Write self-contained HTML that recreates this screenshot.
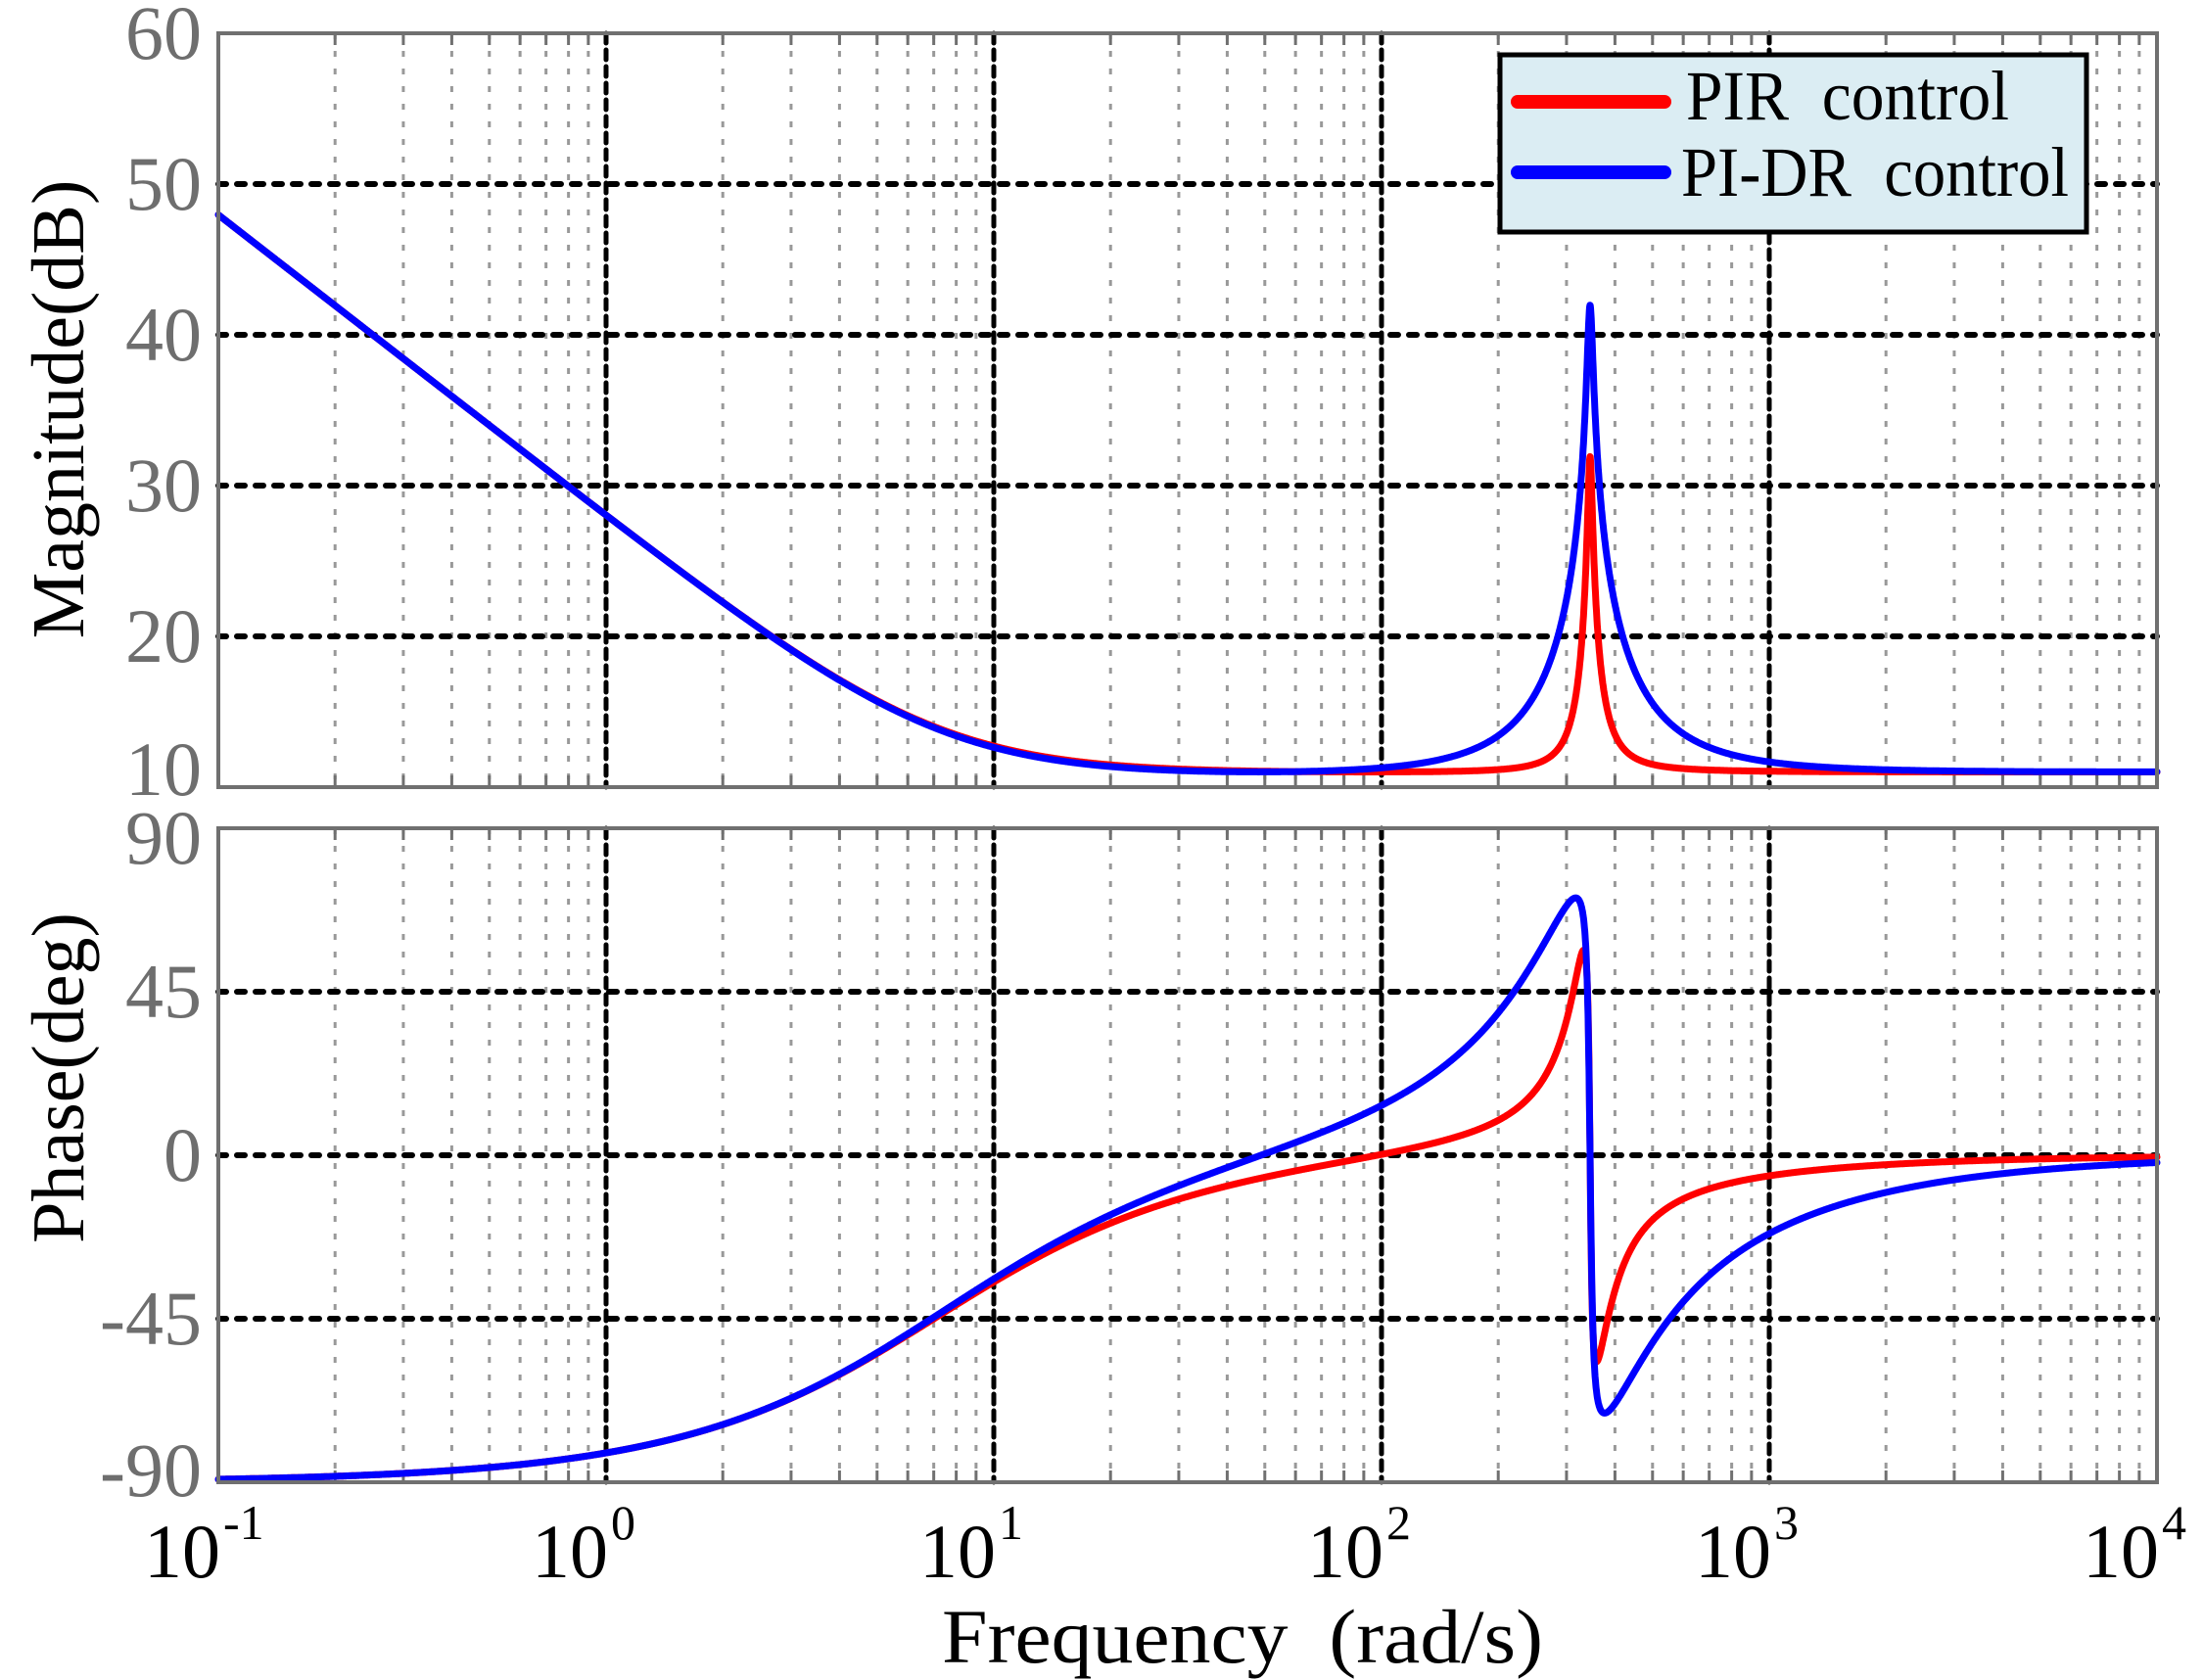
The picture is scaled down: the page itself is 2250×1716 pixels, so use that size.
<!DOCTYPE html>
<html><head><meta charset="utf-8">
<style>html,body{margin:0;padding:0;background:#fff}svg{display:block}text{font-family:"Liberation Serif",serif}</style>
</head><body>
<svg id="s" width="2250" height="1716" viewBox="0 0 2250 1716" xmlns="http://www.w3.org/2000/svg">
<rect width="2250" height="1716" fill="#fff"/>
<g id="grid"></g>
<g id="curves" fill="none" stroke-linejoin="round" stroke-linecap="round"></g>
<g id="frame" fill="none" stroke="#707070" stroke-width="4">
<rect x="223" y="34" width="1980" height="770"/>
<rect x="223" y="846" width="1980" height="668"/>
</g>
<g id="labels"></g>
<rect x="1532" y="56" width="599" height="181" fill="#dbedf3" stroke="#000" stroke-width="5"/>
<line x1="1550" y1="104" x2="1700" y2="104" stroke="#f00" stroke-width="14" stroke-linecap="round"/>
<line x1="1550" y1="176" x2="1700" y2="176" stroke="#00f" stroke-width="14" stroke-linecap="round"/>
<text x="1722" y="122" font-size="72" textLength="330" lengthAdjust="spacingAndGlyphs">PIR&#160;&#160;control</text>
<text x="1717" y="200" font-size="72" textLength="396" lengthAdjust="spacingAndGlyphs">PI-DR&#160;&#160;control</text>
<text transform="translate(85,418) rotate(-90)" font-size="76" text-anchor="middle">Magnitude(dB)</text>
<text transform="translate(85,1101) rotate(-90)" font-size="76" text-anchor="middle">Phase(deg)</text>
<text x="962" y="1698" font-size="78" textLength="614" lengthAdjust="spacingAndGlyphs">Frequency&#160;&#160;(rad/s)</text>
</svg>
<script>
(function(){
var NS="http://www.w3.org/2000/svg";
function el(p,t,a,txt){var e=document.createElementNS(NS,t);for(var k in a)e.setAttribute(k,a[k]);if(txt!=null)e.textContent=txt;p.appendChild(e);return e;}
var L=223,D=396,MT=34,MB=804,PT=846,PB=1514,P0=1180,PS=167/45;
function X(w){return L+(Math.log10(w)+1)*D;}
function YM(db){return MT+(60-db)*15.4;}
function YP(d){return P0-d*PS;}
var g=document.getElementById("grid");
for(var e=-1;e<4;e++)for(var m=2;m<=9;m++){var x=X(m*Math.pow(10,e));
 [[MT,MB],[PT,PB]].forEach(function(r){el(g,"line",{x1:x,y1:r[0],x2:x,y2:r[1],stroke:"#999","stroke-width":3,"stroke-dasharray":"6 12"});
 el(g,"line",{x1:x,y1:r[0],x2:x,y2:r[0]+12,stroke:"#707070","stroke-width":3});el(g,"line",{x1:x,y1:r[1],x2:x,y2:r[1]-12,stroke:"#707070","stroke-width":3});});}
for(var e=0;e<4;e++){var x=X(Math.pow(10,e));
 [[MT,MB],[PT,PB]].forEach(function(r){el(g,"line",{x1:x,y1:r[0],x2:x,y2:r[1],stroke:"#000","stroke-width":5,"stroke-dasharray":"10 7","stroke-linecap":"round"});});}
[50,40,30,20].forEach(function(v){var y=YM(v);el(g,"line",{x1:L,y1:y,x2:L+5*D,y2:y,stroke:"#000","stroke-width":6,"stroke-dasharray":"8 11","stroke-linecap":"round"});});
[45,0,-45].forEach(function(v){var y=YP(v);el(g,"line",{x1:L,y1:y,x2:L+5*D,y2:y,stroke:"#000","stroke-width":6,"stroke-dasharray":"8 11","stroke-linecap":"round"});});
var lb=document.getElementById("labels");
[[60,MT+26],[50,YM(50)+26],[40,YM(40)+26],[30,YM(30)+26],[20,YM(20)+26],[10,MB+8]].forEach(function(a){el(lb,"text",{x:206,y:a[1],"font-size":78,"text-anchor":"end",fill:"#6e6e6e"},String(a[0]));});
[[90,PT+36],[45,YP(45)+26],[0,YP(0)+26],[-45,YP(-45)+26],[-90,PB+14]].forEach(function(a){el(lb,"text",{x:206,y:a[1],"font-size":78,"text-anchor":"end",fill:"#6e6e6e"},String(a[0]));});
for(var e=-1;e<=4;e++){var x=X(Math.pow(10,e));el(lb,"text",{x:x+2,y:1611,"font-size":78,"text-anchor":"end"},"10");
 el(lb,"text",{x:x+5,y:1572,"font-size":50},String(e));}
var Kp=3.55,Ki=25,w0=345;
function H(w,Kr,wc){var re=Kp,im=-Ki/w;var ar=w0*w0-w*w,ai=2*wc*w;var nr=0,ni=Kr*2*wc*w;var d=ar*ar+ai*ai;re+=(nr*ar+ni*ai)/d;im+=(ni*ar-nr*ai)/d;return [20*Math.log10(Math.hypot(re,im)),Math.atan2(im,re)*180/Math.PI];}
var c=document.getElementById("curves");
[[36,4,"#f00"],[122,5,"#00f"]].forEach(function(p){var m="",ph="";var N=6000;
 for(var i=0;i<=N;i++){var lw=-1+5*i/N;var w=Math.pow(10,lw);var h=H(w,p[0],p[1]);var x=X(w).toFixed(1);
  m+=(i?"L":"M")+x+","+YM(h[0]).toFixed(1);ph+=(i?"L":"M")+x+","+YP(h[1]).toFixed(1);}
 el(c,"path",{d:m,stroke:p[2],"stroke-width":7});el(c,"path",{d:ph,stroke:p[2],"stroke-width":7});});
})();
</script>
</body></html>
